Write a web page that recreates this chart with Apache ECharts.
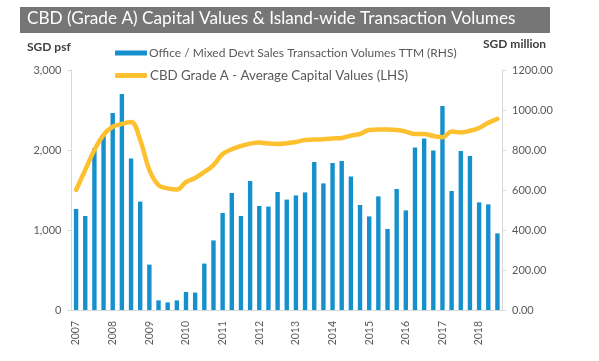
<!DOCTYPE html>
<html>
<head>
<meta charset="utf-8">
<script src="https://cdn.jsdelivr.net/npm/echarts@6/dist/echarts.min.js"></script>
<style>
html,body{margin:0;padding:0;background:#fff;}
#chart{width:599px;height:361px;}
</style>
</head>
<body>
<div id="chart"></div>
<script>
var years = ['2007','2008','2009','2010','2011','2012','2013','2014','2015','2016','2017','2018'];
var quarters = ['Q1','Q2','Q3','Q4'];
var categories = [];
years.forEach(function(y){ quarters.forEach(function(q){ categories.push(y + ' ' + q); }); });
categories = categories.slice(0, 47);

var volumesTTM = [505,470,810,880,985,1080,757,542,227,48,38,48,90,87,232,348,485,585,470,645,520,517,590,552,573,588,740,633,735,745,667,525,468,568,405,605,498,812,857,798,1020,595,795,770,538,528,383];
var capitalValues = [1500,1750,2000,2190,2290,2325,2350,2125,1750,1560,1520,1505,1600,1650,1725,1810,1950,2010,2050,2080,2095,2080,2075,2085,2100,2125,2130,2135,2145,2150,2180,2200,2250,2255,2255,2250,2230,2200,2200,2175,2160,2230,2220,2240,2275,2340,2390];

var leftTicks = [0, 1000, 2000, 3000];
var rightTicks = [0, 200, 400, 600, 800, 1000, 1200];

var titleText = 'CBD (Grade A) Capital Values & Island-wide Transaction Volumes';
var barName = 'Office / Mixed Devt Sales Transaction Volumes TTM (RHS)';
var lineName = 'CBD Grade A - Average Capital Values (LHS)';

var FONT = 'Lato';
var TXT = '#595959';
var AX = '#d9d9d9';

var chart = echarts.init(document.getElementById('chart'));
chart.setOption({
  animation: false,
  textStyle: { fontFamily: FONT },
  graphic: [
    { type: 'rect', shape: { x: 20, y: 7, width: 530, height: 26 }, style: { fill: '#767676' }, silent: true },
    { type: 'text', left: 27, top: 10, style: { text: titleText, fill: '#ffffff', font: '17.2px ' + FONT } },
    { type: 'text', left: 27, top: 41, style: { text: 'SGD psf', fill: '#404040', font: 'bold 12px ' + FONT } },
    { type: 'text', left: 483, top: 38, style: { text: 'SGD million', fill: '#404040', font: 'bold 12px ' + FONT } }
  ],
  legend: [
    { data: [{ name: barName, icon: 'rect' }], left: 110, top: 42, itemWidth: 32, itemHeight: 5, itemGap: 2,
      textStyle: { color: TXT, fontSize: 12, fontFamily: FONT, padding: [0,0,0,-3] } },
    { data: [{ name: lineName, icon: 'roundRect' }], left: 110, top: 64, itemWidth: 32, itemHeight: 5,
      textStyle: { color: TXT, fontSize: 13.3, fontFamily: FONT, padding: [0,0,0,-2] } }
  ],
  grid: { left: 71.5, right: 97, top: 70, bottom: 51, containLabel: false },
  xAxis: {
    type: 'category',
    data: categories,
    boundaryGap: true,
    axisLine: { lineStyle: { color: AX } },
    axisTick: { interval: 0, length: 4, lineStyle: { color: AX } },
    axisLabel: {
      interval: 3, rotate: 90, margin: 11, fontSize: 10.5, color: TXT, fontFamily: FONT,
      formatter: function (v) { return v.split(' ')[0]; }
    },
    splitLine: { show: false }
  },
  yAxis: [
    {
      type: 'value', min: leftTicks[0], max: leftTicks[leftTicks.length - 1], interval: 1000,
      axisLine: { show: true, lineStyle: { color: AX } },
      axisTick: { show: true, length: 4, lineStyle: { color: AX } },
      splitLine: { show: false },
      axisLabel: { color: TXT, fontSize: 11, margin: 10, fontFamily: FONT,
        formatter: function (v) { return v.toLocaleString('en-US'); } }
    },
    {
      type: 'value', min: rightTicks[0], max: rightTicks[rightTicks.length - 1], interval: 200,
      axisLine: { show: true, lineStyle: { color: AX } },
      axisTick: { show: true, length: 4, lineStyle: { color: AX } },
      splitLine: { show: false },
      axisLabel: { color: TXT, fontSize: 11, margin: 10, fontFamily: FONT,
        formatter: function (v) { return v.toFixed(2); } }
    }
  ],
  series: [
    {
      name: barName, type: 'bar', yAxisIndex: 1, data: volumesTTM,
      barWidth: '48%', itemStyle: { color: '#1590cc' }, z: 2
    },
    {
      name: lineName, type: 'line', yAxisIndex: 0, data: capitalValues,
      smooth: 0.4, showSymbol: false, symbol: 'none',
      lineStyle: { color: '#fdc02f', width: 4.5, cap: 'round', join: 'round' },
      itemStyle: { color: '#fdc02f' }, z: 3
    }
  ]
});
</script>
</body>
</html>
